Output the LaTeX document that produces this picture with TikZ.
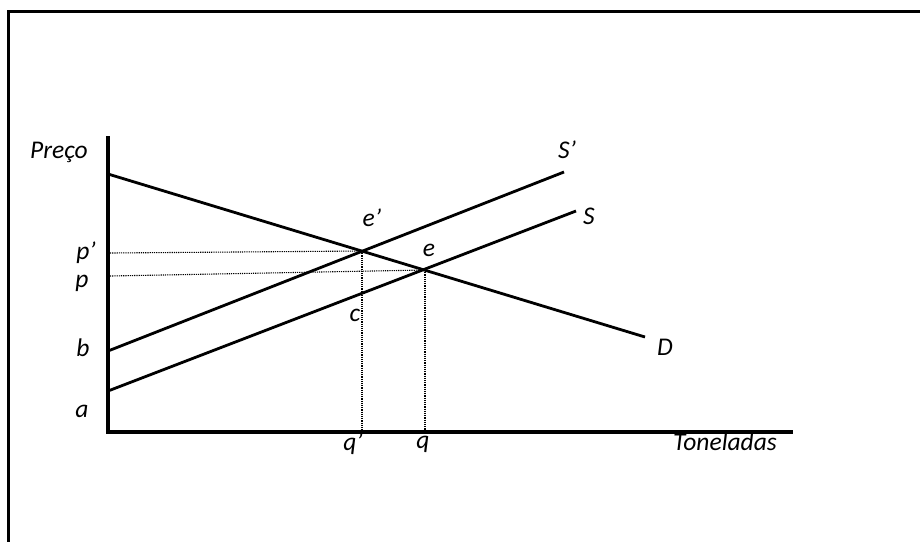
\documentclass[tikz,border=0pt]{standalone}
\usepackage{fontspec}
\setmainfont{Carlito}
\begin{document}
\begin{tikzpicture}[x=1pt,y=-1pt,
  curve/.style={line width=2.8pt},
  axis/.style={line width=3.2pt},
  guide/.style={line width=1.1pt,dash pattern=on 1.2pt off 1pt},
  lbl/.style={font=\fontsize{25.5}{30}\selectfont\itshape,inner sep=0pt}]
\useasboundingbox (0,0) rectangle (920,542);
% frame
\coordinate (fTR) at (920,11);
\coordinate (fTL) at (8,11);
\coordinate (fBL) at (8,542);
\draw[line width=3pt] (fTR) -- (fTL) -- (fBL);
% axes
\coordinate (ytop) at (108,136);
\coordinate (O) at (108,432);
\coordinate (xend) at (793,432);
\draw[axis] (ytop) -- (O) -- (xend);
% curves
\coordinate (D0) at (108,174);
\coordinate (D1) at (645,337);
\coordinate (Sp0) at (108,351);
\coordinate (Sp1) at (564,172);
\coordinate (S0) at (108,391);
\coordinate (S1) at (576,211);
\draw[curve] (D0) -- (D1);
\draw[curve] (Sp0) -- (Sp1);
\draw[curve] (S0) -- (S1);
% equilibria
\coordinate (ep) at (362,251);
\coordinate (e) at (425,270);
\coordinate (pp0) at (110,253);
\coordinate (p0) at (110,276);
\coordinate (qp0) at (362,430);
\coordinate (q0) at (425,430);
\draw[guide] (pp0) -- (ep);
\draw[guide] (p0) -- (e);
\draw[guide] (ep) -- (qp0);
\draw[guide] (e) -- (q0);
% labels
\node[lbl] (lPreco) at (59,152) {Preço};
\node[lbl] (lSp) at (567,150) {S’};
\node[lbl] (lS) at (589,216) {S};
\node[lbl] (lD) at (665,347) {D};
\node[lbl] (lep) at (372,218) {e’};
\node[lbl] (le) at (429,250) {e};
\node[lbl] (lc) at (355,315) {c};
\node[lbl] (lpp) at (86,253) {p’};
\node[lbl] (lp) at (82,283) {p};
\node[lbl] (lb) at (83,348) {b};
\node[lbl] (la) at (82,411) {a};
\node[lbl] (lqp) at (353,444) {q’};
\node[lbl] (lq) at (423,444) {q};
\node[lbl] (lTon) at (725,442) {Toneladas};
\end{tikzpicture}
\end{document}
